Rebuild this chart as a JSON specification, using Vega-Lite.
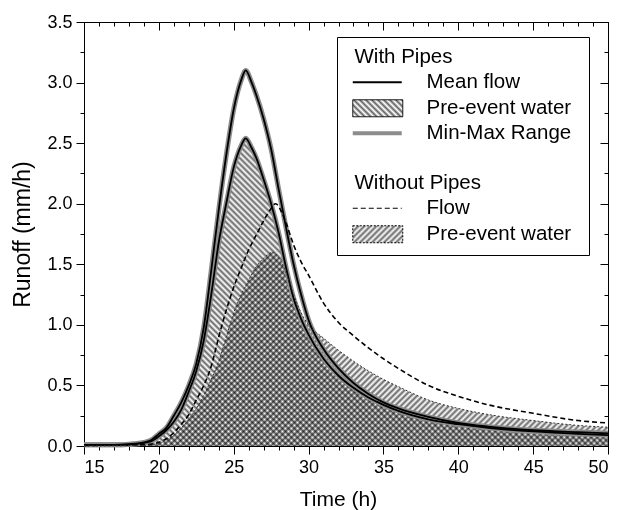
{
  "$schema": "https://vega.github.io/schema/vega-lite/v6.json",
  "autosize": {"type": "none"},
  "padding": {"left": 84, "top": 22, "right": 21, "bottom": 64},
  "width": 524,
  "height": 424,
  "background": "#ffffff",
  "config": {
    "view": {"stroke": "#000", "strokeWidth": 1},
    "axis": {"labelFont": "Liberation Sans", "titleFont": "Liberation Sans", "labelColor": "#000", "titleColor": "#000", "tickColor": "#000", "tickWidth": 1, "domain": false, "grid": false, "titleFontWeight": "normal", "labelFontSize": 18, "titleFontSize": 21}
  },
  "data": {"values": [
    {"t":15,"v":0.01,"s":"mean"},{"t":17,"v":0.01,"s":"mean"},{"t":18,"v":0.015,"s":"mean"},{"t":19,"v":0.03,"s":"mean"},{"t":19.5,"v":0.05,"s":"mean"},{"t":20,"v":0.1,"s":"mean"},{"t":20.5,"v":0.15,"s":"mean"},{"t":21,"v":0.25,"s":"mean"},{"t":21.5,"v":0.36,"s":"mean"},{"t":22,"v":0.5,"s":"mean"},{"t":22.5,"v":0.68,"s":"mean"},{"t":23,"v":0.98,"s":"mean"},{"t":23.5,"v":1.45,"s":"mean"},{"t":24,"v":1.95,"s":"mean"},{"t":24.5,"v":2.4,"s":"mean"},{"t":25,"v":2.78,"s":"mean"},{"t":25.5,"v":3.02,"s":"mean"},{"t":25.8,"v":3.1,"s":"mean"},{"t":26.2,"v":3.0,"s":"mean"},{"t":26.5,"v":2.9,"s":"mean"},{"t":27,"v":2.7,"s":"mean"},{"t":27.5,"v":2.45,"s":"mean"},{"t":28,"v":2.12,"s":"mean"},{"t":28.5,"v":1.8,"s":"mean"},{"t":29,"v":1.5,"s":"mean"},{"t":29.5,"v":1.25,"s":"mean"},{"t":30,"v":1.04,"s":"mean"},{"t":31,"v":0.8,"s":"mean"},{"t":32,"v":0.64,"s":"mean"},{"t":33,"v":0.52,"s":"mean"},{"t":34,"v":0.43,"s":"mean"},{"t":35,"v":0.36,"s":"mean"},{"t":36,"v":0.31,"s":"mean"},{"t":38,"v":0.24,"s":"mean"},{"t":40,"v":0.19,"s":"mean"},{"t":42,"v":0.16,"s":"mean"},{"t":45,"v":0.13,"s":"mean"},{"t":48,"v":0.115,"s":"mean"},{"t":50,"v":0.105,"s":"mean"},
    {"t":15,"v":0.01,"s":"pre"},{"t":17,"v":0.01,"s":"pre"},{"t":18,"v":0.012,"s":"pre"},{"t":19,"v":0.025,"s":"pre"},{"t":19.5,"v":0.04,"s":"pre"},{"t":20,"v":0.08,"s":"pre"},{"t":20.5,"v":0.13,"s":"pre"},{"t":21,"v":0.2,"s":"pre"},{"t":21.5,"v":0.3,"s":"pre"},{"t":22,"v":0.45,"s":"pre"},{"t":22.5,"v":0.62,"s":"pre"},{"t":23,"v":0.87,"s":"pre"},{"t":23.5,"v":1.25,"s":"pre"},{"t":24,"v":1.68,"s":"pre"},{"t":24.5,"v":2.0,"s":"pre"},{"t":25,"v":2.3,"s":"pre"},{"t":25.5,"v":2.48,"s":"pre"},{"t":25.8,"v":2.54,"s":"pre"},{"t":26.2,"v":2.46,"s":"pre"},{"t":26.5,"v":2.38,"s":"pre"},{"t":27,"v":2.2,"s":"pre"},{"t":27.5,"v":2.0,"s":"pre"},{"t":28,"v":1.76,"s":"pre"},{"t":28.5,"v":1.47,"s":"pre"},{"t":29,"v":1.22,"s":"pre"},{"t":29.5,"v":1.05,"s":"pre"},{"t":30,"v":0.92,"s":"pre"},{"t":31,"v":0.72,"s":"pre"},{"t":32,"v":0.58,"s":"pre"},{"t":33,"v":0.48,"s":"pre"},{"t":34,"v":0.4,"s":"pre"},{"t":35,"v":0.34,"s":"pre"},{"t":36,"v":0.29,"s":"pre"},{"t":38,"v":0.22,"s":"pre"},{"t":40,"v":0.18,"s":"pre"},{"t":42,"v":0.15,"s":"pre"},{"t":45,"v":0.12,"s":"pre"},{"t":48,"v":0.1,"s":"pre"},{"t":50,"v":0.09,"s":"pre"},
    {"t":15,"v":0.005,"s":"flow"},{"t":19,"v":0.01,"s":"flow"},{"t":20,"v":0.03,"s":"flow"},{"t":20.5,"v":0.06,"s":"flow"},{"t":21,"v":0.11,"s":"flow"},{"t":21.5,"v":0.18,"s":"flow"},{"t":22,"v":0.26,"s":"flow"},{"t":22.5,"v":0.38,"s":"flow"},{"t":23,"v":0.5,"s":"flow"},{"t":23.5,"v":0.66,"s":"flow"},{"t":24,"v":0.9,"s":"flow"},{"t":24.5,"v":1.12,"s":"flow"},{"t":25,"v":1.31,"s":"flow"},{"t":25.5,"v":1.47,"s":"flow"},{"t":26,"v":1.62,"s":"flow"},{"t":26.5,"v":1.74,"s":"flow"},{"t":27,"v":1.86,"s":"flow"},{"t":27.5,"v":1.96,"s":"flow"},{"t":27.8,"v":2.0,"s":"flow"},{"t":28.2,"v":1.93,"s":"flow"},{"t":28.5,"v":1.84,"s":"flow"},{"t":29,"v":1.66,"s":"flow"},{"t":29.5,"v":1.52,"s":"flow"},{"t":30,"v":1.41,"s":"flow"},{"t":31,"v":1.18,"s":"flow"},{"t":32,"v":1.02,"s":"flow"},{"t":33,"v":0.91,"s":"flow"},{"t":34,"v":0.81,"s":"flow"},{"t":35,"v":0.72,"s":"flow"},{"t":36,"v":0.64,"s":"flow"},{"t":38,"v":0.5,"s":"flow"},{"t":40,"v":0.41,"s":"flow"},{"t":42,"v":0.34,"s":"flow"},{"t":45,"v":0.27,"s":"flow"},{"t":48,"v":0.21,"s":"flow"},{"t":50,"v":0.19,"s":"flow"},
    {"t":15,"v":0.0,"s":"pre2"},{"t":19,"v":0.005,"s":"pre2"},{"t":20,"v":0.02,"s":"pre2"},{"t":20.5,"v":0.05,"s":"pre2"},{"t":21,"v":0.09,"s":"pre2"},{"t":21.5,"v":0.15,"s":"pre2"},{"t":22,"v":0.22,"s":"pre2"},{"t":22.5,"v":0.31,"s":"pre2"},{"t":23,"v":0.42,"s":"pre2"},{"t":23.5,"v":0.55,"s":"pre2"},{"t":24,"v":0.7,"s":"pre2"},{"t":24.5,"v":0.9,"s":"pre2"},{"t":25,"v":1.1,"s":"pre2"},{"t":25.5,"v":1.25,"s":"pre2"},{"t":26,"v":1.37,"s":"pre2"},{"t":26.5,"v":1.48,"s":"pre2"},{"t":27,"v":1.55,"s":"pre2"},{"t":27.6,"v":1.6,"s":"pre2"},{"t":28,"v":1.56,"s":"pre2"},{"t":28.5,"v":1.43,"s":"pre2"},{"t":29,"v":1.25,"s":"pre2"},{"t":29.5,"v":1.1,"s":"pre2"},{"t":30,"v":1.0,"s":"pre2"},{"t":31,"v":0.89,"s":"pre2"},{"t":32,"v":0.79,"s":"pre2"},{"t":33,"v":0.7,"s":"pre2"},{"t":34,"v":0.62,"s":"pre2"},{"t":35,"v":0.55,"s":"pre2"},{"t":36,"v":0.49,"s":"pre2"},{"t":38,"v":0.38,"s":"pre2"},{"t":40,"v":0.31,"s":"pre2"},{"t":42,"v":0.26,"s":"pre2"},{"t":45,"v":0.21,"s":"pre2"},{"t":48,"v":0.17,"s":"pre2"},{"t":50,"v":0.155,"s":"pre2"}
  ]},
  "resolve": {"axis": {"x": "independent", "y": "independent"}},
  "layer": [
    {
      "transform": [{"filter": "datum.s == 'pre2'"}],
      "mark": {"type": "area", "interpolate": "monotone", "blend": "multiply",
        "fill": {"gradient": "linear", "x1": 0.297, "y1": 0.11, "x2": 1.303, "y2": 0.482, "stops": [
{"offset":0,"color":"#666"},{"offset":0.005,"color":"#fff"},{"offset":0.01,"color":"#666"},{"offset":0.015,"color":"#fff"},{"offset":0.02,"color":"#666"},{"offset":0.025,"color":"#fff"},{"offset":0.03,"color":"#666"},{"offset":0.035,"color":"#fff"},{"offset":0.04,"color":"#666"},{"offset":0.045,"color":"#fff"},{"offset":0.05,"color":"#666"},{"offset":0.055,"color":"#fff"},{"offset":0.06,"color":"#666"},{"offset":0.065,"color":"#fff"},{"offset":0.07,"color":"#666"},{"offset":0.075,"color":"#fff"},{"offset":0.08,"color":"#666"},{"offset":0.085,"color":"#fff"},{"offset":0.09,"color":"#666"},{"offset":0.095,"color":"#fff"},
{"offset":0.1,"color":"#666"},{"offset":0.105,"color":"#fff"},{"offset":0.11,"color":"#666"},{"offset":0.115,"color":"#fff"},{"offset":0.12,"color":"#666"},{"offset":0.125,"color":"#fff"},{"offset":0.13,"color":"#666"},{"offset":0.135,"color":"#fff"},{"offset":0.14,"color":"#666"},{"offset":0.145,"color":"#fff"},{"offset":0.15,"color":"#666"},{"offset":0.155,"color":"#fff"},{"offset":0.16,"color":"#666"},{"offset":0.165,"color":"#fff"},{"offset":0.17,"color":"#666"},{"offset":0.175,"color":"#fff"},{"offset":0.18,"color":"#666"},{"offset":0.185,"color":"#fff"},{"offset":0.19,"color":"#666"},{"offset":0.195,"color":"#fff"},
{"offset":0.2,"color":"#666"},{"offset":0.205,"color":"#fff"},{"offset":0.21,"color":"#666"},{"offset":0.215,"color":"#fff"},{"offset":0.22,"color":"#666"},{"offset":0.225,"color":"#fff"},{"offset":0.23,"color":"#666"},{"offset":0.235,"color":"#fff"},{"offset":0.24,"color":"#666"},{"offset":0.245,"color":"#fff"},{"offset":0.25,"color":"#666"},{"offset":0.255,"color":"#fff"},{"offset":0.26,"color":"#666"},{"offset":0.265,"color":"#fff"},{"offset":0.27,"color":"#666"},{"offset":0.275,"color":"#fff"},{"offset":0.28,"color":"#666"},{"offset":0.285,"color":"#fff"},{"offset":0.29,"color":"#666"},{"offset":0.295,"color":"#fff"},
{"offset":0.3,"color":"#666"},{"offset":0.305,"color":"#fff"},{"offset":0.31,"color":"#666"},{"offset":0.315,"color":"#fff"},{"offset":0.32,"color":"#666"},{"offset":0.325,"color":"#fff"},{"offset":0.33,"color":"#666"},{"offset":0.335,"color":"#fff"},{"offset":0.34,"color":"#666"},{"offset":0.345,"color":"#fff"},{"offset":0.35,"color":"#666"},{"offset":0.355,"color":"#fff"},{"offset":0.36,"color":"#666"},{"offset":0.365,"color":"#fff"},{"offset":0.37,"color":"#666"},{"offset":0.375,"color":"#fff"},{"offset":0.38,"color":"#666"},{"offset":0.385,"color":"#fff"},{"offset":0.39,"color":"#666"},{"offset":0.395,"color":"#fff"},
{"offset":0.4,"color":"#666"},{"offset":0.405,"color":"#fff"},{"offset":0.41,"color":"#666"},{"offset":0.415,"color":"#fff"},{"offset":0.42,"color":"#666"},{"offset":0.425,"color":"#fff"},{"offset":0.43,"color":"#666"},{"offset":0.435,"color":"#fff"},{"offset":0.44,"color":"#666"},{"offset":0.445,"color":"#fff"},{"offset":0.45,"color":"#666"},{"offset":0.455,"color":"#fff"},{"offset":0.46,"color":"#666"},{"offset":0.465,"color":"#fff"},{"offset":0.47,"color":"#666"},{"offset":0.475,"color":"#fff"},{"offset":0.48,"color":"#666"},{"offset":0.485,"color":"#fff"},{"offset":0.49,"color":"#666"},{"offset":0.495,"color":"#fff"},
{"offset":0.5,"color":"#666"},{"offset":0.505,"color":"#fff"},{"offset":0.51,"color":"#666"},{"offset":0.515,"color":"#fff"},{"offset":0.52,"color":"#666"},{"offset":0.525,"color":"#fff"},{"offset":0.53,"color":"#666"},{"offset":0.535,"color":"#fff"},{"offset":0.54,"color":"#666"},{"offset":0.545,"color":"#fff"},{"offset":0.55,"color":"#666"},{"offset":0.555,"color":"#fff"},{"offset":0.56,"color":"#666"},{"offset":0.565,"color":"#fff"},{"offset":0.57,"color":"#666"},{"offset":0.575,"color":"#fff"},{"offset":0.58,"color":"#666"},{"offset":0.585,"color":"#fff"},{"offset":0.59,"color":"#666"},{"offset":0.595,"color":"#fff"},
{"offset":0.6,"color":"#666"},{"offset":0.605,"color":"#fff"},{"offset":0.61,"color":"#666"},{"offset":0.615,"color":"#fff"},{"offset":0.62,"color":"#666"},{"offset":0.625,"color":"#fff"},{"offset":0.63,"color":"#666"},{"offset":0.635,"color":"#fff"},{"offset":0.64,"color":"#666"},{"offset":0.645,"color":"#fff"},{"offset":0.65,"color":"#666"},{"offset":0.655,"color":"#fff"},{"offset":0.66,"color":"#666"},{"offset":0.665,"color":"#fff"},{"offset":0.67,"color":"#666"},{"offset":0.675,"color":"#fff"},{"offset":0.68,"color":"#666"},{"offset":0.685,"color":"#fff"},{"offset":0.69,"color":"#666"},{"offset":0.695,"color":"#fff"},
{"offset":0.7,"color":"#666"},{"offset":0.705,"color":"#fff"},{"offset":0.71,"color":"#666"},{"offset":0.715,"color":"#fff"},{"offset":0.72,"color":"#666"},{"offset":0.725,"color":"#fff"},{"offset":0.73,"color":"#666"},{"offset":0.735,"color":"#fff"},{"offset":0.74,"color":"#666"},{"offset":0.745,"color":"#fff"},{"offset":0.75,"color":"#666"},{"offset":0.755,"color":"#fff"},{"offset":0.76,"color":"#666"},{"offset":0.765,"color":"#fff"},{"offset":0.77,"color":"#666"},{"offset":0.775,"color":"#fff"},{"offset":0.78,"color":"#666"},{"offset":0.785,"color":"#fff"},{"offset":0.79,"color":"#666"},{"offset":0.795,"color":"#fff"},
{"offset":0.8,"color":"#666"},{"offset":0.805,"color":"#fff"},{"offset":0.81,"color":"#666"},{"offset":0.815,"color":"#fff"},{"offset":0.82,"color":"#666"},{"offset":0.825,"color":"#fff"},{"offset":0.83,"color":"#666"},{"offset":0.835,"color":"#fff"},{"offset":0.84,"color":"#666"},{"offset":0.845,"color":"#fff"},{"offset":0.85,"color":"#666"},{"offset":0.855,"color":"#fff"},{"offset":0.86,"color":"#666"},{"offset":0.865,"color":"#fff"},{"offset":0.87,"color":"#666"},{"offset":0.875,"color":"#fff"},{"offset":0.88,"color":"#666"},{"offset":0.885,"color":"#fff"},{"offset":0.89,"color":"#666"},{"offset":0.895,"color":"#fff"},
{"offset":0.9,"color":"#666"},{"offset":0.905,"color":"#fff"},{"offset":0.91,"color":"#666"},{"offset":0.915,"color":"#fff"},{"offset":0.92,"color":"#666"},{"offset":0.925,"color":"#fff"},{"offset":0.93,"color":"#666"},{"offset":0.935,"color":"#fff"},{"offset":0.94,"color":"#666"},{"offset":0.945,"color":"#fff"},{"offset":0.95,"color":"#666"},{"offset":0.955,"color":"#fff"},{"offset":0.96,"color":"#666"},{"offset":0.965,"color":"#fff"},{"offset":0.97,"color":"#666"},{"offset":0.975,"color":"#fff"},{"offset":0.98,"color":"#666"},{"offset":0.985,"color":"#fff"},{"offset":0.99,"color":"#666"},{"offset":0.995,"color":"#fff"},{"offset":1,"color":"#666"}
        ]}},
      "encoding": {
        "x": {"field": "t", "type": "quantitative", "scale": {"domain": [15, 50], "nice": false, "zero": false},
              "axis": {"orient": "bottom", "values": [15,20,25,30,35,40,45,50], "tickSize": 8, "labelPadding": 4, "title": "Time (h)", "titlePadding": 12, "titleX": 254}},
        "y": {"field": "v", "type": "quantitative", "stack": null, "scale": {"domain": [0, 3.5], "nice": false},
              "axis": {"orient": "left", "values": [0,0.5,1,1.5,2,2.5,3,3.5], "format": ".1f", "tickSize": 8, "labelPadding": 4, "title": "Runoff (mm/h)", "titlePadding": 12, "titleFontSize": 23}}
      }
    },
    {
      "transform": [{"filter": "datum.s == 'pre'"}],
      "mark": {"type": "area", "interpolate": "monotone", "blend": "multiply",
        "fill": {"gradient": "linear", "x1": 0, "y1": 1, "x2": 0.851, "y2": 0.5, "stops": [
{"offset":0,"color":"#666"},{"offset":0.005,"color":"#fff"},{"offset":0.01,"color":"#666"},{"offset":0.015,"color":"#fff"},{"offset":0.02,"color":"#666"},{"offset":0.025,"color":"#fff"},{"offset":0.03,"color":"#666"},{"offset":0.035,"color":"#fff"},{"offset":0.04,"color":"#666"},{"offset":0.045,"color":"#fff"},{"offset":0.05,"color":"#666"},{"offset":0.055,"color":"#fff"},{"offset":0.06,"color":"#666"},{"offset":0.065,"color":"#fff"},{"offset":0.07,"color":"#666"},{"offset":0.075,"color":"#fff"},{"offset":0.08,"color":"#666"},{"offset":0.085,"color":"#fff"},{"offset":0.09,"color":"#666"},{"offset":0.095,"color":"#fff"},
{"offset":0.1,"color":"#666"},{"offset":0.105,"color":"#fff"},{"offset":0.11,"color":"#666"},{"offset":0.115,"color":"#fff"},{"offset":0.12,"color":"#666"},{"offset":0.125,"color":"#fff"},{"offset":0.13,"color":"#666"},{"offset":0.135,"color":"#fff"},{"offset":0.14,"color":"#666"},{"offset":0.145,"color":"#fff"},{"offset":0.15,"color":"#666"},{"offset":0.155,"color":"#fff"},{"offset":0.16,"color":"#666"},{"offset":0.165,"color":"#fff"},{"offset":0.17,"color":"#666"},{"offset":0.175,"color":"#fff"},{"offset":0.18,"color":"#666"},{"offset":0.185,"color":"#fff"},{"offset":0.19,"color":"#666"},{"offset":0.195,"color":"#fff"},
{"offset":0.2,"color":"#666"},{"offset":0.205,"color":"#fff"},{"offset":0.21,"color":"#666"},{"offset":0.215,"color":"#fff"},{"offset":0.22,"color":"#666"},{"offset":0.225,"color":"#fff"},{"offset":0.23,"color":"#666"},{"offset":0.235,"color":"#fff"},{"offset":0.24,"color":"#666"},{"offset":0.245,"color":"#fff"},{"offset":0.25,"color":"#666"},{"offset":0.255,"color":"#fff"},{"offset":0.26,"color":"#666"},{"offset":0.265,"color":"#fff"},{"offset":0.27,"color":"#666"},{"offset":0.275,"color":"#fff"},{"offset":0.28,"color":"#666"},{"offset":0.285,"color":"#fff"},{"offset":0.29,"color":"#666"},{"offset":0.295,"color":"#fff"},
{"offset":0.3,"color":"#666"},{"offset":0.305,"color":"#fff"},{"offset":0.31,"color":"#666"},{"offset":0.315,"color":"#fff"},{"offset":0.32,"color":"#666"},{"offset":0.325,"color":"#fff"},{"offset":0.33,"color":"#666"},{"offset":0.335,"color":"#fff"},{"offset":0.34,"color":"#666"},{"offset":0.345,"color":"#fff"},{"offset":0.35,"color":"#666"},{"offset":0.355,"color":"#fff"},{"offset":0.36,"color":"#666"},{"offset":0.365,"color":"#fff"},{"offset":0.37,"color":"#666"},{"offset":0.375,"color":"#fff"},{"offset":0.38,"color":"#666"},{"offset":0.385,"color":"#fff"},{"offset":0.39,"color":"#666"},{"offset":0.395,"color":"#fff"},
{"offset":0.4,"color":"#666"},{"offset":0.405,"color":"#fff"},{"offset":0.41,"color":"#666"},{"offset":0.415,"color":"#fff"},{"offset":0.42,"color":"#666"},{"offset":0.425,"color":"#fff"},{"offset":0.43,"color":"#666"},{"offset":0.435,"color":"#fff"},{"offset":0.44,"color":"#666"},{"offset":0.445,"color":"#fff"},{"offset":0.45,"color":"#666"},{"offset":0.455,"color":"#fff"},{"offset":0.46,"color":"#666"},{"offset":0.465,"color":"#fff"},{"offset":0.47,"color":"#666"},{"offset":0.475,"color":"#fff"},{"offset":0.48,"color":"#666"},{"offset":0.485,"color":"#fff"},{"offset":0.49,"color":"#666"},{"offset":0.495,"color":"#fff"},
{"offset":0.5,"color":"#666"},{"offset":0.505,"color":"#fff"},{"offset":0.51,"color":"#666"},{"offset":0.515,"color":"#fff"},{"offset":0.52,"color":"#666"},{"offset":0.525,"color":"#fff"},{"offset":0.53,"color":"#666"},{"offset":0.535,"color":"#fff"},{"offset":0.54,"color":"#666"},{"offset":0.545,"color":"#fff"},{"offset":0.55,"color":"#666"},{"offset":0.555,"color":"#fff"},{"offset":0.56,"color":"#666"},{"offset":0.565,"color":"#fff"},{"offset":0.57,"color":"#666"},{"offset":0.575,"color":"#fff"},{"offset":0.58,"color":"#666"},{"offset":0.585,"color":"#fff"},{"offset":0.59,"color":"#666"},{"offset":0.595,"color":"#fff"},
{"offset":0.6,"color":"#666"},{"offset":0.605,"color":"#fff"},{"offset":0.61,"color":"#666"},{"offset":0.615,"color":"#fff"},{"offset":0.62,"color":"#666"},{"offset":0.625,"color":"#fff"},{"offset":0.63,"color":"#666"},{"offset":0.635,"color":"#fff"},{"offset":0.64,"color":"#666"},{"offset":0.645,"color":"#fff"},{"offset":0.65,"color":"#666"},{"offset":0.655,"color":"#fff"},{"offset":0.66,"color":"#666"},{"offset":0.665,"color":"#fff"},{"offset":0.67,"color":"#666"},{"offset":0.675,"color":"#fff"},{"offset":0.68,"color":"#666"},{"offset":0.685,"color":"#fff"},{"offset":0.69,"color":"#666"},{"offset":0.695,"color":"#fff"},
{"offset":0.7,"color":"#666"},{"offset":0.705,"color":"#fff"},{"offset":0.71,"color":"#666"},{"offset":0.715,"color":"#fff"},{"offset":0.72,"color":"#666"},{"offset":0.725,"color":"#fff"},{"offset":0.73,"color":"#666"},{"offset":0.735,"color":"#fff"},{"offset":0.74,"color":"#666"},{"offset":0.745,"color":"#fff"},{"offset":0.75,"color":"#666"},{"offset":0.755,"color":"#fff"},{"offset":0.76,"color":"#666"},{"offset":0.765,"color":"#fff"},{"offset":0.77,"color":"#666"},{"offset":0.775,"color":"#fff"},{"offset":0.78,"color":"#666"},{"offset":0.785,"color":"#fff"},{"offset":0.79,"color":"#666"},{"offset":0.795,"color":"#fff"},
{"offset":0.8,"color":"#666"},{"offset":0.805,"color":"#fff"},{"offset":0.81,"color":"#666"},{"offset":0.815,"color":"#fff"},{"offset":0.82,"color":"#666"},{"offset":0.825,"color":"#fff"},{"offset":0.83,"color":"#666"},{"offset":0.835,"color":"#fff"},{"offset":0.84,"color":"#666"},{"offset":0.845,"color":"#fff"},{"offset":0.85,"color":"#666"},{"offset":0.855,"color":"#fff"},{"offset":0.86,"color":"#666"},{"offset":0.865,"color":"#fff"},{"offset":0.87,"color":"#666"},{"offset":0.875,"color":"#fff"},{"offset":0.88,"color":"#666"},{"offset":0.885,"color":"#fff"},{"offset":0.89,"color":"#666"},{"offset":0.895,"color":"#fff"},
{"offset":0.9,"color":"#666"},{"offset":0.905,"color":"#fff"},{"offset":0.91,"color":"#666"},{"offset":0.915,"color":"#fff"},{"offset":0.92,"color":"#666"},{"offset":0.925,"color":"#fff"},{"offset":0.93,"color":"#666"},{"offset":0.935,"color":"#fff"},{"offset":0.94,"color":"#666"},{"offset":0.945,"color":"#fff"},{"offset":0.95,"color":"#666"},{"offset":0.955,"color":"#fff"},{"offset":0.96,"color":"#666"},{"offset":0.965,"color":"#fff"},{"offset":0.97,"color":"#666"},{"offset":0.975,"color":"#fff"},{"offset":0.98,"color":"#666"},{"offset":0.985,"color":"#fff"},{"offset":0.99,"color":"#666"},{"offset":0.995,"color":"#fff"},{"offset":1,"color":"#666"}
        ]}},
      "encoding": {
        "x": {"field": "t", "type": "quantitative", "axis": {"orient": "bottom", "values": [15,16,17,18,19,20,21,22,23,24,25,26,27,28,29,30,31,32,33,34,35,36,37,38,39,40,41,42,43,44,45,46,47,48,49,50], "tickSize": 4, "labels": false, "title": null}},
        "y": {"field": "v", "type": "quantitative", "stack": null, "axis": {"orient": "left", "values": [0,0.25,0.5,0.75,1,1.25,1.5,1.75,2,2.25,2.5,2.75,3,3.25,3.5], "tickSize": 4, "labels": false, "title": null}}
      }
    },
    {
      "transform": [{"filter": "datum.s == 'mean' || datum.s == 'pre'"}],
      "mark": {"type": "line", "interpolate": "monotone", "color": "#8c8c8c", "strokeWidth": 5},
      "encoding": {
        "x": {"field": "t", "type": "quantitative", "axis": {"orient": "top", "values": [15,20,25,30,35,40,45,50], "tickSize": -8, "labels": false, "title": null}},
        "y": {"field": "v", "type": "quantitative", "axis": {"orient": "right", "values": [0,0.5,1,1.5,2,2.5,3,3.5], "tickSize": -8, "labels": false, "title": null}},
        "detail": {"field": "s"}
      }
    },
    {
      "transform": [{"filter": "datum.s == 'mean' || datum.s == 'pre'"}],
      "mark": {"type": "line", "interpolate": "monotone", "color": "#000", "strokeWidth": 1.8},
      "encoding": {
        "x": {"field": "t", "type": "quantitative", "axis": {"orient": "top", "values": [15,16,17,18,19,20,21,22,23,24,25,26,27,28,29,30,31,32,33,34,35,36,37,38,39,40,41,42,43,44,45,46,47,48,49,50], "tickSize": -4, "labels": false, "title": null}},
        "y": {"field": "v", "type": "quantitative", "axis": {"orient": "right", "values": [0,0.25,0.5,0.75,1,1.25,1.5,1.75,2,2.25,2.5,2.75,3,3.25,3.5], "tickSize": -4, "labels": false, "title": null}},
        "detail": {"field": "s"}
      }
    },
    {
      "transform": [{"filter": "datum.s == 'flow'"}],
      "mark": {"type": "line", "interpolate": "monotone", "strokeWidth": 1.6, "strokeDash": [5, 3]},
      "encoding": {
        "x": {"field": "t", "type": "quantitative", "axis": null},
        "y": {"field": "v", "type": "quantitative", "axis": null},
        "color": {"field": "s", "type": "nominal",
          "scale": {"domain": ["hdr1","mean","pre","range","gap","hdr2","flow","pre2"], "range": ["#ffffff","#000000","#000000","#8c8c8c","#ffffff","#ffffff","#000000","#000000"]},
          "legend": {
            "orient": "none", "legendX": 253, "legendY": 15, "title": null,
            "padding": 10, "strokeColor": "#000", "fillColor": "#fff", "cornerRadius": 0,
            "labelFont": "Liberation Sans", "labelFontSize": 20.5, "labelColor": "#000",
            "labelOffset": 59, "rowPadding": 4, "symbolSize": 100, "labelLimit": 300,
            "labelExpr": "datum.value=='hdr1' ? 'With Pipes' : datum.value=='mean' ? 'Mean flow' : datum.value=='pre' ? 'Pre-event water' : datum.value=='range' ? 'Min-Max Range' : datum.value=='hdr2' ? 'Without Pipes' : datum.value=='flow' ? 'Flow' : datum.value=='pre2' ? 'Pre-event water' : 'Pre-event waterr'",
            "encode": {
              "symbols": {"update": {
                "shape": {"signal": "datum.value=='pre'||datum.value=='pre2' ? 'M-0.9,-1.7H9.1V1.7H-0.9Z' : 'M-0.9,0H8.9'"},
                "fill": {"signal": "datum.value=='pre' ? {gradient:'linear',x1:0,y1:1,x2:1.291,y2:0.561,stops:[{offset:0,color:'#666'},{offset:0.0417,color:'#fff'},{offset:0.0833,color:'#666'},{offset:0.125,color:'#fff'},{offset:0.1667,color:'#666'},{offset:0.2083,color:'#fff'},{offset:0.25,color:'#666'},{offset:0.2917,color:'#fff'},{offset:0.3333,color:'#666'},{offset:0.375,color:'#fff'},{offset:0.4167,color:'#666'},{offset:0.4583,color:'#fff'},{offset:0.5,color:'#666'},{offset:0.5417,color:'#fff'},{offset:0.5833,color:'#666'},{offset:0.625,color:'#fff'},{offset:0.6667,color:'#666'},{offset:0.7083,color:'#fff'},{offset:0.75,color:'#666'},{offset:0.7917,color:'#fff'},{offset:0.8333,color:'#666'},{offset:0.875,color:'#fff'},{offset:0.9167,color:'#666'},{offset:0.9583,color:'#fff'},{offset:1,color:'#666'}]} : datum.value=='pre2' ? {gradient:'linear',x1:0,y1:0,x2:1.291,y2:0.439,stops:[{offset:0,color:'#666'},{offset:0.0417,color:'#fff'},{offset:0.0833,color:'#666'},{offset:0.125,color:'#fff'},{offset:0.1667,color:'#666'},{offset:0.2083,color:'#fff'},{offset:0.25,color:'#666'},{offset:0.2917,color:'#fff'},{offset:0.3333,color:'#666'},{offset:0.375,color:'#fff'},{offset:0.4167,color:'#666'},{offset:0.4583,color:'#fff'},{offset:0.5,color:'#666'},{offset:0.5417,color:'#fff'},{offset:0.5833,color:'#666'},{offset:0.625,color:'#fff'},{offset:0.6667,color:'#666'},{offset:0.7083,color:'#fff'},{offset:0.75,color:'#666'},{offset:0.7917,color:'#fff'},{offset:0.8333,color:'#666'},{offset:0.875,color:'#fff'},{offset:0.9167,color:'#666'},{offset:0.9583,color:'#fff'},{offset:1,color:'#666'}]} : 'transparent'"},
                "stroke": {"signal": "datum.value=='range' ? '#8c8c8c' : '#000000'"},
                "strokeWidth": {"signal": "datum.value=='range' ? 4 : datum.value=='mean' ? 2 : 1"},
                "strokeDash": {"signal": "datum.value=='flow' ? [5,3] : datum.value=='pre2' ? [2,1.5] : [1,0]"},
                "opacity": {"signal": "datum.value=='hdr1'||datum.value=='hdr2'||datum.value=='gap' ? 0 : 1"}
              }},
              "labels": {"update": {
                "dx": {"signal": "datum.value=='hdr1'||datum.value=='hdr2' ? -72 : 0"},
                "opacity": {"signal": "datum.value=='gap' ? 0 : 1"}
              }}
            }
          }
        }
      }
    },
    {
      "transform": [{"filter": "datum.s == 'pre2'"}],
      "mark": {"type": "line", "interpolate": "monotone", "color": "#333", "strokeWidth": 1, "strokeDash": [2, 2]},
      "encoding": {
        "x": {"field": "t", "type": "quantitative", "axis": null},
        "y": {"field": "v", "type": "quantitative", "axis": null}
      }
    }
  ]
}
